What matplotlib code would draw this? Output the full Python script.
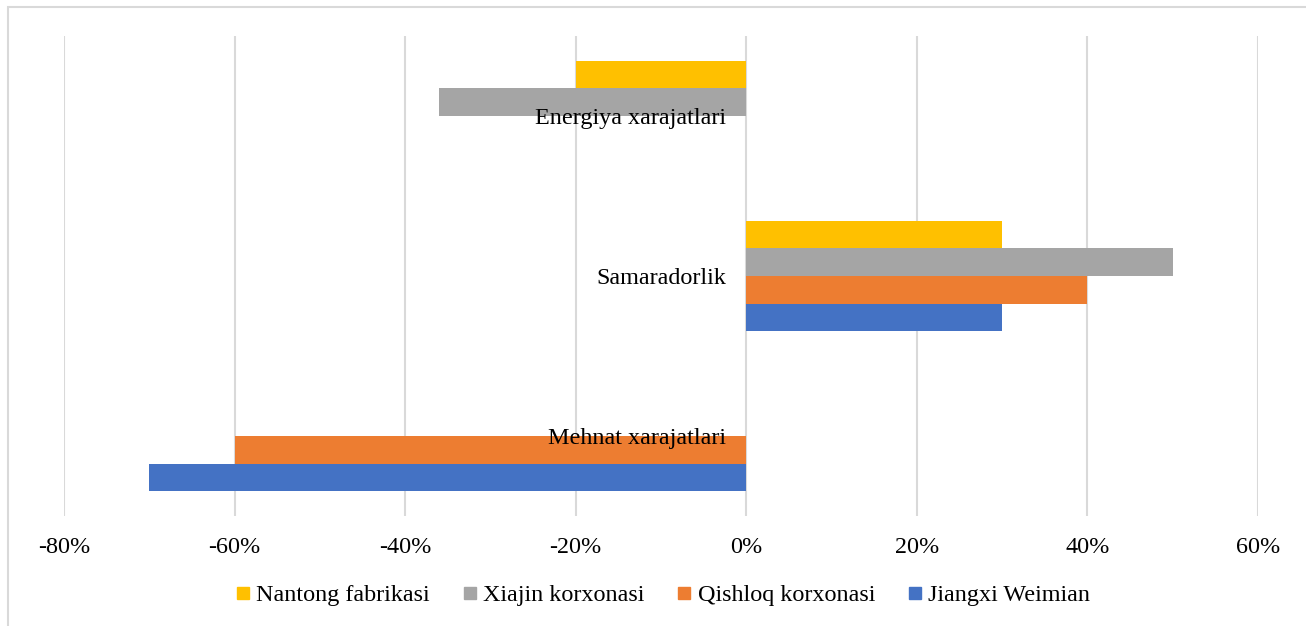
import matplotlib.pyplot as plt
from matplotlib.lines import Line2D
from matplotlib.patches import Rectangle
import numpy as np

categories = ['Mehnat xarajatlari', 'Samaradorlik', 'Energiya xarajatlari']
series = ['Jiangxi Weimian', 'Qishloq korxonasi', 'Xiajin korxonasi', 'Nantong fabrikasi']
jiangxi = [-0.70, 0.30, 0.0]
qishloq = [-0.60, 0.40, 0.0]
xiajin = [0.0, 0.50, -0.36]
nantong = [0.0, 0.30, -0.20]
colors = ['#4472C4', '#ED7D31', '#A5A5A5', '#FFC000']
xticks = [-0.8, -0.6, -0.4, -0.2, 0.0, 0.2, 0.4, 0.6]

plt.rcParams['font.family'] = ['Liberation Serif', 'DejaVu Serif']
fs = 17.4

fig = plt.figure(figsize=(13.06, 6.26), dpi=100)
ax = fig.add_axes([64/1306, 110/626, (1258-64)/1306, 480/626])

y = np.arange(len(categories))
h = 0.172
offsets = [-1.5*h, -0.5*h, 0.5*h, 1.5*h]
for vals, off, c in zip([jiangxi, qishloq, xiajin, nantong], offsets, colors):
    ax.barh(y + off, vals, height=h, color=c, zorder=3)

ax.set_xlim(-0.8, 0.6)
ax.set_ylim(-0.5, 2.5)
ax.set_xticks(xticks)
ax.set_xticklabels([f'{int(round(t*100))}%' for t in xticks], fontsize=fs)
ax.tick_params(axis='x', length=0, pad=15)
ax.set_yticks([])
ax.grid(axis='x', color='#D9D9D9', linewidth=1.5, zorder=0)
for s in ax.spines.values():
    s.set_visible(False)

# category labels sit just left of the zero line
for yi, name in zip(y, categories):
    ax.annotate(name, xy=(0, yi), xytext=(-14.5, -2), textcoords='offset points',
                ha='right', va='center', fontsize=fs, zorder=4)

handles = [Line2D([], [], marker='s', linestyle='none', markersize=8.6,
                  color=c) for c in colors[::-1]]
fig.legend(handles, series[::-1], loc='center', bbox_to_anchor=(663/1306, 31/626),
           ncol=4, frameon=False, fontsize=fs, handlelength=0.6,
           handletextpad=0.25, columnspacing=1.35)

fig.patches.append(Rectangle((8/1306, -0.01), 1.0, 1.0 - 7/626 + 0.01,
                             transform=fig.transFigure, fill=False,
                             edgecolor='#D9D9D9', linewidth=1.5))

fig.savefig('out.png', dpi=100)
